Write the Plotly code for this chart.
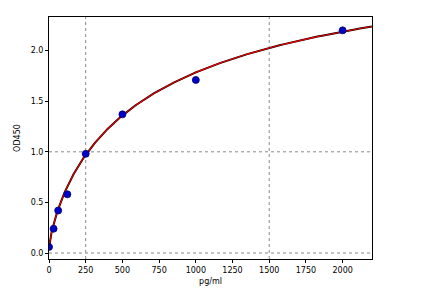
import numpy as np
import plotly.graph_objects as go

conc = [0, 31.25, 62.5, 125, 250, 500, 1000, 2000]
od = [0.06, 0.24, 0.42, 0.58, 0.98, 1.37, 1.71, 2.20]

# 4PL fit parameters (estimated from the reference curve)
A, B, C, D = 0.05, 0.785, 772.0, 3.2
xfit = np.linspace(0, 2200, 400)
yfit = D + (A - D) / (1 + (xfit / C) ** B)

x_ticks = [0, 250, 500, 750, 1000, 1250, 1500, 1750, 2000]
y_ticks = [0.0, 0.5, 1.0, 1.5, 2.0]
x_grid = [250, 1500]
y_grid = [0.0, 1.0]

fig = go.Figure()
fig.add_trace(go.Scatter(x=xfit, y=yfit, mode="lines",
                         line=dict(color="black", width=2.0), hoverinfo="skip"))
fig.add_trace(go.Scatter(x=xfit, y=yfit, mode="lines",
                         line=dict(color="#ee0000", width=1.1), hoverinfo="skip"))
fig.add_trace(go.Scatter(x=conc, y=od, mode="markers",
                         marker=dict(color="#0000cc", size=7,
                                     line=dict(color="#000066", width=0.8))))

for gx in x_grid:
    fig.add_shape(type="line", xref="x", yref="paper", x0=gx, x1=gx, y0=0, y1=1,
                  line=dict(color="#888888", width=1, dash="dot"), layer="below")
for gy in y_grid:
    fig.add_shape(type="line", xref="paper", yref="y", x0=0, x1=1, y0=gy, y1=gy,
                  line=dict(color="#888888", width=1, dash="dot"), layer="below")

axis_common = dict(showgrid=False, zeroline=False, showline=True, linecolor="black",
                   linewidth=1, mirror=True, ticks="outside", ticklen=3,
                   tickcolor="black", tickfont=dict(family="DejaVu Sans", size=8, color="black"))

fig.update_layout(
    width=421, height=298,
    margin=dict(l=49, r=49, t=17, b=39),
    paper_bgcolor="white", plot_bgcolor="white",
    showlegend=False,
    font=dict(family="DejaVu Sans", size=8, color="black"),
    xaxis=dict(range=[0, 2200], tickvals=x_ticks,
               ticktext=[str(v) for v in x_ticks],
               title=dict(text="pg/ml", font=dict(size=8), standoff=4), **axis_common),
    yaxis=dict(range=[-0.059, 2.332], tickvals=y_ticks,
               ticktext=[f"{v:.1f}" for v in y_ticks],
               title=dict(text="OD450", font=dict(size=8), standoff=8), **axis_common),
)

fig.write_html("out.html")
